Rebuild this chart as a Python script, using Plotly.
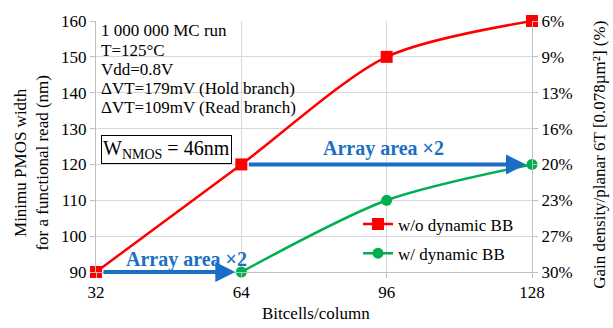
import plotly.graph_objects as go

# ---- data ----
bitcells = [32, 64, 96, 128]
wo_dynamic_bb = [90, 120, 150, 160]
w_dynamic_bb_x = [64, 96, 128]
w_dynamic_bb = [90, 110, 120]
left_ticks = [90, 100, 110, 120, 130, 140, 150, 160]
right_tick_labels = ["30%", "27%", "23%", "20%", "16%", "13%", "9%", "6%"]
info_lines = ["1 000 000 MC run", "T=125°C", "Vdd=0.8V",
              "ΔVT=179mV (Hold branch)", "ΔVT=109mV (Read branch)"]
arrow1_from, arrow1_to, arrow1_level = 32, 64, 90
arrow2_from, arrow2_to, arrow2_level = 64, 128, 120

FONT = "Liberation Serif"
RED = "#ff0000"
GREEN = "#00b050"
BLUE = "#1a6fc4"
GRID = "#d9d9d9"
AX = "#bfbfbf"

W, H = 613, 328
L, R, T, B = 96, 81, 15, 56
pw, ph = W - L - R, H - T - B


def px(x):
    return (x - L) / pw


def py(y):
    return (H - B - y) / ph


fig = go.Figure()
fig.add_trace(go.Scatter(
    x=bitcells, y=wo_dynamic_bb, name="w/o dynamic BB", mode="lines+markers",
    line=dict(color=RED, width=2.5, shape="spline", smoothing=0.8),
    marker=dict(symbol="square", size=12, color=RED),
    cliponaxis=False, legendgroup="a"))
fig.add_trace(go.Scatter(
    x=w_dynamic_bb_x, y=w_dynamic_bb, name="w/ dynamic BB", mode="lines+markers",
    line=dict(color=GREEN, width=2.5, shape="spline", smoothing=0.8),
    marker=dict(symbol="circle", size=11, color=GREEN),
    cliponaxis=False, legendgroup="b"))
# invisible trace so the secondary axis is drawn
fig.add_trace(go.Scatter(
    x=bitcells, y=wo_dynamic_bb, yaxis="y2", mode="lines",
    line=dict(width=0), opacity=0, showlegend=False, hoverinfo="skip"))

ann = []
# info text lines
for i, t in enumerate(info_lines):
    ann.append(dict(xref="paper", yref="paper", x=px(99), y=py(25 + i * 19.7),
                    xanchor="left", yanchor="middle", text=t, showarrow=False,
                    font=dict(family=FONT, size=17, color="black")))
# W box
ann.append(dict(xref="paper", yref="paper", x=px(166.5), y=py(147),
                xanchor="center", yanchor="middle",
                text="W<sub>NMOS</sub> = 46nm", showarrow=False,
                font=dict(family=FONT, size=20, color="black"),
                bordercolor="black", borderwidth=1, borderpad=1, bgcolor="white"))
# arrows
for (a, b, lvl, so) in [(arrow1_from, arrow1_to, arrow1_level, 6),
                         (arrow2_from, arrow2_to, arrow2_level, 6)]:
    ann.append(dict(x=b, y=lvl, ax=a, ay=lvl, xref="x", yref="y", axref="x", ayref="y",
                    showarrow=True, arrowhead=2, arrowsize=1, arrowwidth=4,
                    arrowcolor=BLUE, standoff=so, startstandoff=6, text=""))
ann.append(dict(xref="paper", yref="paper", x=px(186), y=py(259),
                xanchor="center", yanchor="middle", text="<b>Array area ×2</b>",
                showarrow=False, font=dict(family=FONT, size=20, color=BLUE)))
ann.append(dict(xref="paper", yref="paper", x=px(383), y=py(146),
                xanchor="center", yanchor="middle", text="<b>Array area ×2</b>",
                showarrow=False, font=dict(family=FONT, size=20, color=BLUE)))
# axis titles
ann.append(dict(xref="paper", yref="paper", x=px(32), y=py(160),
                xanchor="center", yanchor="middle", textangle=-90,
                text="Minimu PMOS width<br>for a functional read (nm)", showarrow=False,
                font=dict(family=FONT, size=17, color="black")))
ann.append(dict(xref="paper", yref="paper", x=px(600), y=py(152),
                xanchor="center", yanchor="middle", textangle=-90,
                text="Gain density/planar 6T [0.078µm²] (%)", showarrow=False,
                font=dict(family=FONT, size=17, color="black")))
ann.append(dict(xref="paper", yref="paper", x=px(316), y=py(315),
                xanchor="center", yanchor="middle",
                text="Bitcells/column", showarrow=False,
                font=dict(family=FONT, size=17, color="black")))

fig.update_layout(
    width=W, height=H,
    margin=dict(l=L, r=R, t=T, b=B, pad=0),
    paper_bgcolor="white", plot_bgcolor="white",
    font=dict(family=FONT, size=17, color="black"),
    showlegend=True,
    legend=dict(x=px(358), y=py(205), xanchor="left", yanchor="top",
                bgcolor="rgba(255,255,255,0)", itemwidth=30,
                font=dict(family=FONT, size=17, color="black"),
                traceorder="grouped", tracegroupgap=4),
    xaxis=dict(range=[32, 128], tickvals=bitcells, showgrid=True, gridcolor=GRID,
               showline=True, linecolor=AX, linewidth=1, zeroline=False,
               ticks="outside", ticklen=5, tickcolor=AX,
               tickfont=dict(family=FONT, size=17, color="black")),
    yaxis=dict(range=[90, 160], tickvals=left_ticks, showgrid=True, gridcolor=GRID,
               showline=True, linecolor=AX, linewidth=1, zeroline=False,
               ticks="outside", ticklen=5, tickcolor=AX,
               tickfont=dict(family=FONT, size=17, color="black")),
    yaxis2=dict(range=[90, 160], tickvals=left_ticks, ticktext=right_tick_labels,
                overlaying="y", side="right", showgrid=False,
                showline=True, linecolor=AX, linewidth=1, zeroline=False,
                ticks="outside", ticklen=5, tickcolor=AX,
                tickfont=dict(family=FONT, size=17, color="black")),
    annotations=ann,
)

fig.write_html("out.html")
